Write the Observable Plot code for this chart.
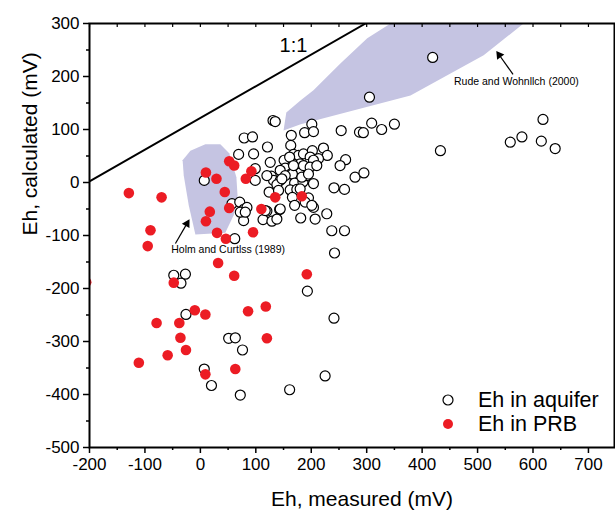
<!DOCTYPE html>
<html><head><meta charset="utf-8">
<script src="https://cdn.jsdelivr.net/npm/d3@7"></script>
<script src="https://cdn.jsdelivr.net/npm/@observablehq/plot@0.6"></script>
<style>
body{margin:0;background:#fff;font-family:"Liberation Sans",Arial,sans-serif;}
#wrap{position:relative;width:615px;height:510px;}
#legend{position:absolute;left:440px;top:388px;font-size:21.5px;color:#000;line-height:24px;}
.row{height:24px;display:flex;align-items:center;}
.row svg{margin-right:22px;}
</style></head><body><div id="wrap"><div id="legend"></div></div>
<script>
// Eh in aquifer: measured (x) and calculated (y), mV
const aquiferMeasured = [305,131,135,201,188,204,254,287,294,309,327,350,419,433,618,559,580,615,640,79,94,164,163,121,69,96,168,177,186,202,222,229,198,213,262,252,151,161,180,194,204,153,163,180,99,128,132,144,138,166,170,185,204,192,7,124,162,174,241,260,279,295,166,195,170,204,57,71,79,84,120,143,78,113,129,138,181,207,228,237,260,62,242,-48,-27,-35,193,-26,241,51,63,76,7,225,20,161,72,204,144,168,186,198,210,120,153,183,195,147,141,180,189,201,144,117,126,72,81,99];
const aquiferCalculated = [161,117,115,110,94,96,98,95,94,112,100,110,236,60,119,76,86,78,64,84,86,89,70,67,53,54,53,51,54,60,65,51,48,45,43,32,42,48,35,34,37,27,16,18,26,12,4,4,-4,16,-1,1,-2,13,4,-18,-14,-13,-10,-13,10,18,-28,-29,-43,-47,-40,-37,-50,-47,-54,-51,-72,-70,-73,-69,-67,-69,-59,-91,-91,-106,-133,-175,-173,-190,-205,-249,-256,-294,-293,-316,-352,-365,-383,-391,-401,42,23,32,32,29,32,13,13,10,16,7,-15,-12,-37,-43,-50,-53,38,-56,-56,4];
// Eh in PRB
const prbMeasured = [-129,-70,52,61,10,29,92,82,44,135,183,52,110,17,10,-90,30,46,95,-95,32,61,192,-48,-206,-10,9,118,86,-79,-38,-36,120,-26,-59,-111,63,9];
const prbCalculated = [-20,-28,40,32,19,7,21,7,-18,-28,-26,-48,-50,-55,-73,-90,-95,-106,-94,-120,-152,-176,-173,-189,-188,-241,-249,-234,-243,-265,-265,-293,-294,-316,-326,-340,-352,-362];
// reference regions
const rudeX = [150,155,181,204,253,301,343,583,511,379,181];
const rudeY = [98,132,155,174,225,272,300,300,240,164,110];
const holmX = [-32,-18,9,36,52,65,67,60,45,-9,-21,-30];
const holmY = [42,60,72,72,55,10,-25,-62,-95,-98,-43,13];
const lineX = [-200,298];
const lineY = [2,300];
const labels = ["1:1","Rude and Wohnllch (2000)","Holm and Curtlss (1989)"];
const labelX = [168,570,50];
const labelY = [259,191,-127];
const arrowFromX = [564,-45], arrowFromY = [204,-115];
const arrowToX = [534,-20], arrowToY = [248,-70];
const xDomain = [-200,747], yDomain = [-500,300];
const xTicks = d3.range(-200,701,100), xMinor = d3.range(-150,701,100);
const yTicks = d3.range(-500,301,100), yMinor = d3.range(-450,301,100);
const legendLabels = ["Eh in aquifer","Eh in PRB"];
const xTitle = "Eh, measured (mV)", yTitle = "Eh, calculated (mV)";

const W = 615, H = 510, ML = 89, MR = 1, MT = 23, MB = 63;
const kx = (W - ML - MR) / (xDomain[1] - xDomain[0]);
const ky = (H - MT - MB) / (yDomain[1] - yDomain[0]);

const aquifer = aquiferMeasured.map((x,i)=>({x,y:aquiferCalculated[i]}));
const prb = prbMeasured.map((x,i)=>({x,y:prbCalculated[i]}));
const rude = rudeX.map((x,i)=>({x,y:rudeY[i]}));
const holm = holmX.map((x,i)=>({x,y:holmY[i]}));
const oneLine = lineX.map((x,i)=>({x,y:lineY[i]}));
const notes = labels.map((t,i)=>({t,x:labelX[i],y:labelY[i]}));
const arrows = arrowFromX.map((x1,i)=>{
  const x2 = arrowToX[i], y2 = arrowToY[i], y1 = arrowFromY[i];
  const ang = Math.atan2((x2-x1)*kx, (y2-y1)*ky) * 180 / Math.PI;
  return {x1, y1, x2, y2, ang, hx: x2 + 0.17*(x1-x2), hy: y2 + 0.17*(y1-y2)};
});
const FONT = '"Liberation Sans", Arial, sans-serif';
const RED = "#ec1c24", LAV = "#c5c4e2";

const chart = Plot.plot({
  width: W, height: H,
  marginLeft: ML, marginRight: MR, marginTop: MT, marginBottom: MB,
  style: {fontFamily: FONT, fontSize: "17px", color: "#000", background: "transparent", overflow: "visible"},
  x: {domain: xDomain},
  y: {domain: yDomain},
  marks: [
    Plot.line(rude, {x:"x", y:"y", fill: LAV, stroke: "none", curve: "linear-closed", clip: true}),
    Plot.line(holm, {x:"x", y:"y", fill: LAV, stroke: "none", curve: "linear-closed"}),
    Plot.line(oneLine, {x:"x", y:"y", stroke: "#000", strokeWidth: 2, clip: true}),
    Plot.text(notes.slice(0,1), {x:"x", y:"y", text:"t", fontSize: 20}),
    Plot.text(notes.slice(1), {x:"x", y:"y", text:"t", fontSize: 10.5}),
    Plot.link(arrows, {x1:"x1", y1:"y1", x2:"hx", y2:"hy", stroke:"#000", strokeWidth: 1.2}),
    Plot.dot(arrows, {x:"hx", y:"hy", symbol: "triangle2", r: 4.2, rotate: "ang", fill: "#000", stroke: "none"}),
    Plot.dot(aquifer, {x:"x", y:"y", r: 5, fill: "#fff", stroke: "#000", strokeWidth: 1.2}),
    Plot.dot(prb, {x:"x", y:"y", r: 5.3, fill: RED, stroke: "none", clip: true}),
    Plot.frame({stroke: "#000", strokeWidth: 2}),
    Plot.axisX({ticks: xTicks, tickSize: 6, tickPadding: 4, strokeWidth: 1.5, tickFormat: d => String(d), label: null, fontSize: 17}),
    Plot.axisX({ticks: xMinor, tickSize: 3, strokeWidth: 1.5, tickFormat: () => "", label: null}),
    Plot.axisX({anchor: "top", ticks: d3.range(-200,701,50), tickSize: -3, strokeWidth: 1.2, tickFormat: () => "", label: null}),
    Plot.axisY({ticks: yTicks, tickSize: 6, tickPadding: 4, strokeWidth: 1.5, tickFormat: d => String(d), label: null, fontSize: 17}),
    Plot.axisY({ticks: yMinor, tickSize: 3, strokeWidth: 1.5, tickFormat: () => "", label: null}),
    Plot.text([xTitle], {frameAnchor: "bottom", dx: 10, dy: 52, fontSize: 21, lineAnchor: "middle"}),
    Plot.text([yTitle], {frameAnchor: "left", dx: -59, rotate: -90, fontSize: 21, lineAnchor: "middle"})
  ]
});
document.getElementById("wrap").prepend(chart);

const legend = document.getElementById("legend");
const fills = ["#fff", RED], strokes = ["#000", "none"];
legendLabels.forEach((lab,i)=>{
  const row = document.createElement("div");
  row.className = "row";
  row.innerHTML = `<svg width="16" height="16"><circle cx="8" cy="8" r="5" fill="${fills[i]}" stroke="${strokes[i]}" stroke-width="1.2"/></svg><span>${lab}</span>`;
  legend.appendChild(row);
});
</script>
</body></html>
